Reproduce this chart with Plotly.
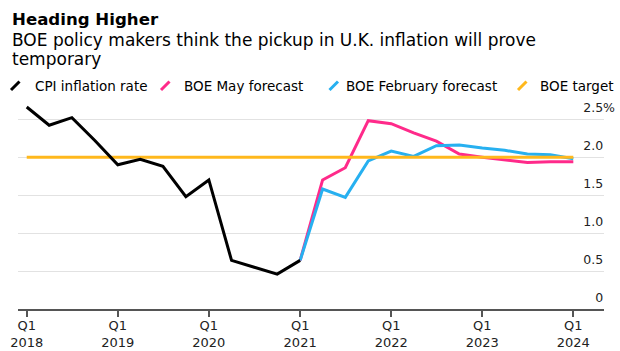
import plotly.graph_objects as go

# ---------------- data ----------------
cpi_quarters = ["2018-01-01", "2018-04-01", "2018-07-01", "2018-10-01",
                "2019-01-01", "2019-04-01", "2019-07-01", "2019-10-01",
                "2020-01-01", "2020-04-01", "2020-07-01", "2020-10-01",
                "2021-01-01"]
cpi_values = [2.66, 2.42, 2.52, 2.22, 1.90, 1.97, 1.88, 1.48, 1.70, 0.64, 0.55, 0.46, 0.64]

fc_quarters = ["2021-01-01", "2021-04-01", "2021-07-01", "2021-10-01",
               "2022-01-01", "2022-04-01", "2022-07-01", "2022-10-01",
               "2023-01-01", "2023-04-01", "2023-07-01", "2023-10-01",
               "2024-01-01"]
may_values = [0.64, 1.70, 1.86, 2.48, 2.44, 2.32, 2.21, 2.04, 2.00, 1.97, 1.93, 1.94, 1.94]
feb_values = [0.64, 1.58, 1.47, 1.95, 2.08, 2.01, 2.15, 2.16, 2.12, 2.09, 2.04, 2.03, 1.98]

target_quarters = ["2018-01-01", "2024-01-01"]
target_values = [2.0, 2.0]

x_tickvals = ["2018-01-01", "2019-01-01", "2020-01-01", "2021-01-01",
              "2022-01-01", "2023-01-01", "2024-01-01"]
x_ticktext = ["Q1<br>2018", "Q1<br>2019", "Q1<br>2020", "Q1<br>2021",
              "Q1<br>2022", "Q1<br>2023", "Q1<br>2024"]
y_tickvals = [0, 0.5, 1.0, 1.5, 2.0, 2.5]
y_ticklabels = ["0", "0.5", "1.0", "1.5", "2.0", "2.5"]

legend_names = ["CPI inflation rate", "BOE May forecast", "BOE February forecast", "BOE target"]

# ---------------- style ----------------
FONT = "DejaVu Sans"
C_CPI = "#000000"
C_MAY = "#FF2A8A"
C_FEB = "#27B0F0"
C_TGT = "#FFB81C"
legend_colors = [C_CPI, C_MAY, C_FEB, C_TGT]

W, H = 620, 351
ML, MR, MT, MB = 18, 16, 85, 42
PW, PH = W - ML - MR, H - MT - MB


def px2x(px):
    return (px - ML) / PW


def py2y(py):
    return (H - MB - py) / PH


fig = go.Figure()
fig.add_trace(go.Scatter(x=fc_quarters, y=may_values, mode="lines",
                         line=dict(color=C_MAY, width=3), name=legend_names[1]))
fig.add_trace(go.Scatter(x=fc_quarters, y=feb_values, mode="lines",
                         line=dict(color=C_FEB, width=3), name=legend_names[2]))
fig.add_trace(go.Scatter(x=target_quarters, y=target_values, mode="lines",
                         line=dict(color=C_TGT, width=3), name=legend_names[3]))
fig.add_trace(go.Scatter(x=cpi_quarters, y=cpi_values, mode="lines",
                         line=dict(color=C_CPI, width=3), name=legend_names[0]))

# y tick text: pad others with an invisible % so numbers right-align like the reference
pad = "<span style='color:rgba(0,0,0,0)'>%</span>"
y_ticktext = [t + ("%" if i == len(y_ticklabels) - 1 else pad) for i, t in enumerate(y_ticklabels)]

annotations = [
    dict(text="<b>Heading Higher</b>", x=px2x(10), y=py2y(19.2), xref="paper", yref="paper",
         xanchor="left", yanchor="middle", showarrow=False,
         font=dict(family=FONT, size=16.6, color="#000000")),
    dict(text="BOE policy makers think the pickup in U.K. inflation will prove", x=px2x(10),
         y=py2y(39.6), xref="paper", yref="paper", xanchor="left", yanchor="middle",
         showarrow=False, font=dict(family=FONT, size=17, color="#000000")),
    dict(text="temporary", x=px2x(10), y=py2y(59.4), xref="paper", yref="paper",
         xanchor="left", yanchor="middle", showarrow=False,
         font=dict(family=FONT, size=17, color="#000000")),
]

legend_text_px = [33, 182, 344, 538]
legend_swatch_px = [11, 161, 329.5, 518]
shapes = []
for name, col, tx, sx in zip(legend_names, legend_colors, legend_text_px, legend_swatch_px):
    annotations.append(dict(text=name, x=px2x(tx), y=py2y(86), xref="paper", yref="paper",
                            xanchor="left", yanchor="middle", showarrow=False,
                            font=dict(family=FONT, size=13.5, color="#000000")))
    shapes.append(dict(type="line", xref="paper", yref="paper",
                       x0=px2x(sx), y0=py2y(90), x1=px2x(sx + 8.5), y1=py2y(81.5),
                       line=dict(color=col, width=3)))

fig.update_layout(
    width=W, height=H,
    margin=dict(l=ML, r=MR, t=MT, b=MB, pad=0, autoexpand=False),
    paper_bgcolor="white", plot_bgcolor="white",
    showlegend=False,
    font=dict(family=FONT, size=12, color="#222222"),
    annotations=annotations,
    shapes=shapes,
    xaxis=dict(
        type="date",
        automargin=False,
        range=["2017-11-27", "2024-05-03"],
        tickvals=x_tickvals, ticktext=x_ticktext,
        ticks="outside", ticklen=6, tickwidth=1.5, tickcolor="#555555",
        ticklabelstandoff=-2,
        showline=True, linecolor="#555555", linewidth=1.5,
        showgrid=False, zeroline=False,
        tickfont=dict(family=FONT, size=13, color="#222222"),
    ),
    yaxis=dict(
        automargin=False,
        range=[0, 2.95],
        side="right",
        tickvals=y_tickvals, ticktext=y_ticktext,
        ticklabelposition="inside top",
        ticklabelstandoff=-14,
        ticklabelshift=-3,
        ticks="",
        showgrid=True, gridcolor="#E2E2E2", gridwidth=1,
        zeroline=False, showline=False,
        tickfont=dict(family=FONT, size=12.5, color="#222222"),
    ),
)

fig.write_html("out.html")
